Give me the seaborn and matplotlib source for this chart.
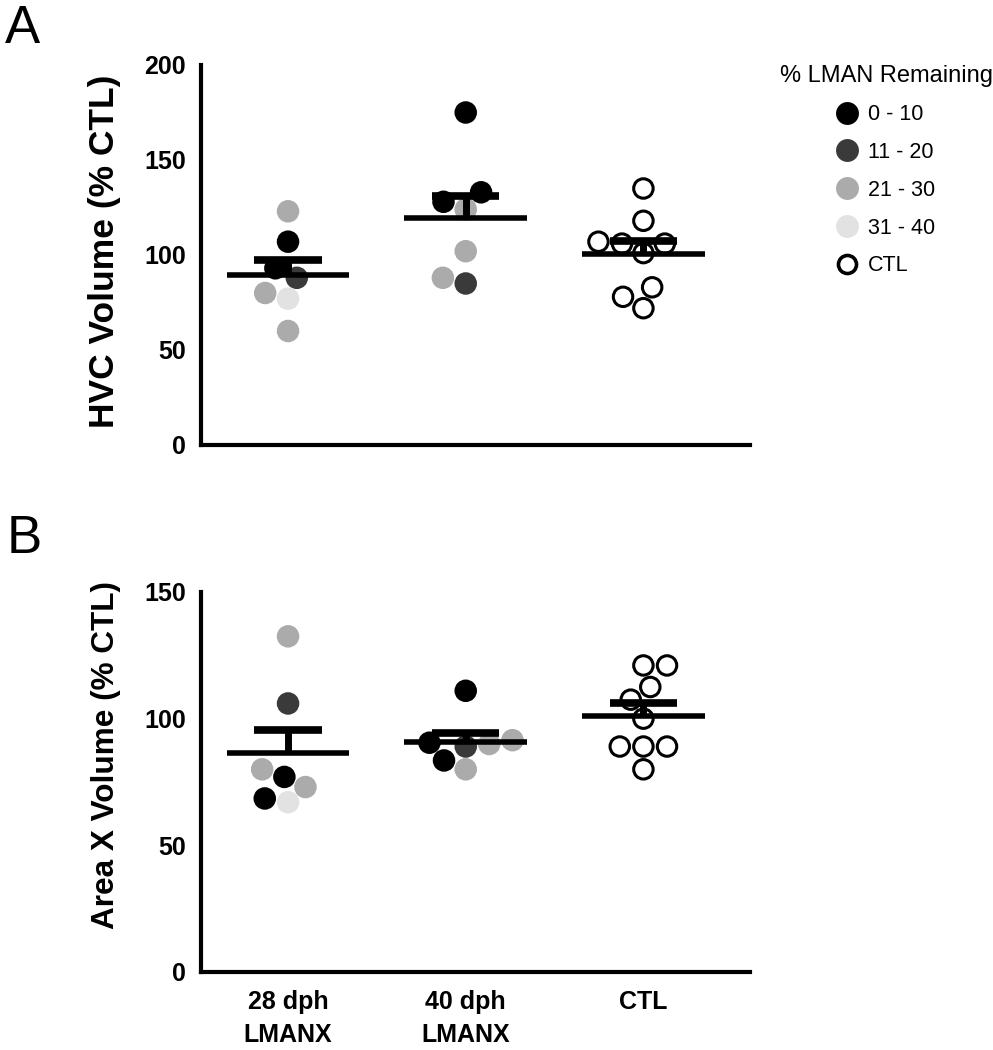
#!/usr/bin/env python3
"""
    HVC and Area X volume after LMAN lesions (scatter + mean/SEM)
"""
import matplotlib
matplotlib.use("Agg")
import matplotlib.pyplot as plt
from matplotlib.lines import Line2D
import numpy as np
import pandas as pd
import seaborn as sns

groups = ['28 dph\nLMANX', '40 dph\nLMANX', 'CTL']
lman_bins = ['0 - 10', '11 - 20', '21 - 30', '31 - 40', 'CTL']
bin_colors = ['#000000', '#3a3a3a', '#ababab', '#e2e2e2', '#ffffff']

# panel A: HVC volume (% CTL)
hvc_28 = [123, 107, 93, 88, 80, 77, 60]
hvc_28_lman = ['21 - 30', '0 - 10', '0 - 10', '11 - 20', '21 - 30', '31 - 40', '21 - 30']
hvc_40 = [175, 133, 128, 124, 102, 88, 85]
hvc_40_lman = ['0 - 10', '0 - 10', '0 - 10', '21 - 30', '21 - 30', '21 - 30', '11 - 20']
hvc_ctl = [135, 118, 107, 106, 106, 101, 83, 78, 72]

# panel B: Area X volume (% CTL)
areax_28 = [132.5, 106, 80, 77, 73, 68.5, 67]
areax_28_lman = ['21 - 30', '11 - 20', '21 - 30', '0 - 10', '21 - 30', '0 - 10', '31 - 40']
areax_40 = [111, 91.5, 90.5, 90, 89, 83.5, 80]
areax_40_lman = ['0 - 10', '21 - 30', '0 - 10', '21 - 30', '11 - 20', '0 - 10', '21 - 30']
areax_ctl = [121, 121, 112.5, 107.5, 100, 89, 89, 89, 80]


def make_df(v28, l28, v40, l40, vctl):
    rows = []
    for v, l in zip(v28, l28):
        rows.append((groups[0], v, l))
    for v, l in zip(v40, l40):
        rows.append((groups[1], v, l))
    for v in vctl:
        rows.append((groups[2], v, 'CTL'))
    return pd.DataFrame(rows, columns=['group', 'value', 'lman'])


def draw_panel(ax, df, ymax, step, ylabel, label_size, label_y, show_xlabels):
    sns.swarmplot(data=df, x='group', y='value', hue='lman', order=groups,
                  hue_order=lman_bins, palette=dict(zip(lman_bins, bin_colors)),
                  size=14, linewidth=2.2, legend=False, ax=ax, zorder=2)
    # open circles for controls, same-colour outline for filled dots
    for coll in ax.collections:
        fc = np.array(coll.get_facecolors())
        if fc.size == 0:
            continue
        ec = fc.copy()
        white = fc[:, :3].min(axis=1) > 0.99
        ec[white] = (0, 0, 0, 1)
        coll.set_edgecolors(ec)
        coll.set_linewidths(2.2)
        coll.set_clip_on(False)

    # mean line and upward SEM bar
    stats = df.groupby('group', sort=False)['value'].agg(['mean', 'sem']).reindex(groups)
    pos = np.arange(len(groups))
    ax.hlines(stats['mean'], pos - 0.345, pos + 0.345, color='black', lw=4, zorder=4)
    ax.vlines(pos, stats['mean'], stats['mean'] + stats['sem'], color='black', lw=5, zorder=4)
    ax.hlines(stats['mean'] + stats['sem'], pos - 0.19, pos + 0.19, color='black', lw=5.5, zorder=4)

    ax.set_xlim(-0.49, 2.60)
    ax.set_ylim(0, ymax)
    ax.set_yticks(np.arange(0, ymax + 1, step))
    ax.set_xlabel('')
    ax.set_ylabel(ylabel, fontsize=label_size, fontweight='bold')
    ax.yaxis.set_label_coords(-0.145, label_y)
    sns.despine(ax=ax)
    for s in ['left', 'bottom']:
        ax.spines[s].set_linewidth(3)
        ax.spines[s].set_color('black')
    ax.tick_params(axis='both', direction='out', length=7, width=3, pad=4,
                   labelsize=18, color='black', labelcolor='black')
    ax.tick_params(axis='x', pad=6)
    for t in ax.get_yticklabels():
        t.set_fontweight('bold')
    ax.set_xticks(pos)
    if show_xlabels:
        ax.set_xticklabels(groups, fontweight='bold', fontsize=18, linespacing=1.45)
    else:
        ax.set_xticklabels([])


sns.set_style('white')
plt.rcParams['font.family'] = ['Liberation Sans', 'DejaVu Sans']
plt.rcParams['text.color'] = 'black'
plt.rcParams['axes.labelcolor'] = 'black'

fig = plt.figure(figsize=(9.93, 10.5), dpi=100)
ax_a = fig.add_axes([0.2024, 0.5762, 0.5529, 0.3619])
ax_b = fig.add_axes([0.2024, 0.0743, 0.5529, 0.3619])

df_a = make_df(hvc_28, hvc_28_lman, hvc_40, hvc_40_lman, hvc_ctl)
df_b = make_df(areax_28, areax_28_lman, areax_40, areax_40_lman, areax_ctl)

draw_panel(ax_a, df_a, 200, 50, 'HVC Volume (% CTL)', 25.5, 0.51, False)
draw_panel(ax_b, df_b, 150, 50, 'Area X Volume (% CTL)', 22.7, 0.571, True)

# --- legend ---
handles = []
for lab, col in zip(lman_bins, bin_colors):
    if lab == 'CTL':
        handles.append(Line2D([], [], ls='', marker='o', markersize=13, markerfacecolor='white',
                              markeredgecolor='black', markeredgewidth=2.6))
    else:
        handles.append(Line2D([], [], ls='', marker='o', markersize=16.5, markerfacecolor=col,
                              markeredgecolor=col, markeredgewidth=0))
leg = fig.legend(handles, lman_bins, title='% LMAN Remaining', loc='upper center',
                 bbox_to_anchor=(886 / 993, 1 - 46 / 1050), frameon=False, fontsize=15.5,
                 title_fontsize=17, handlelength=0.9, handletextpad=0.5, labelspacing=0.78)

fig.text(0.005, 0.959, 'A', fontsize=38, va='baseline', ha='left')
fig.text(0.007, 0.4733, 'B', fontsize=38, va='baseline', ha='left')

fig.savefig('out.png', dpi=100)
